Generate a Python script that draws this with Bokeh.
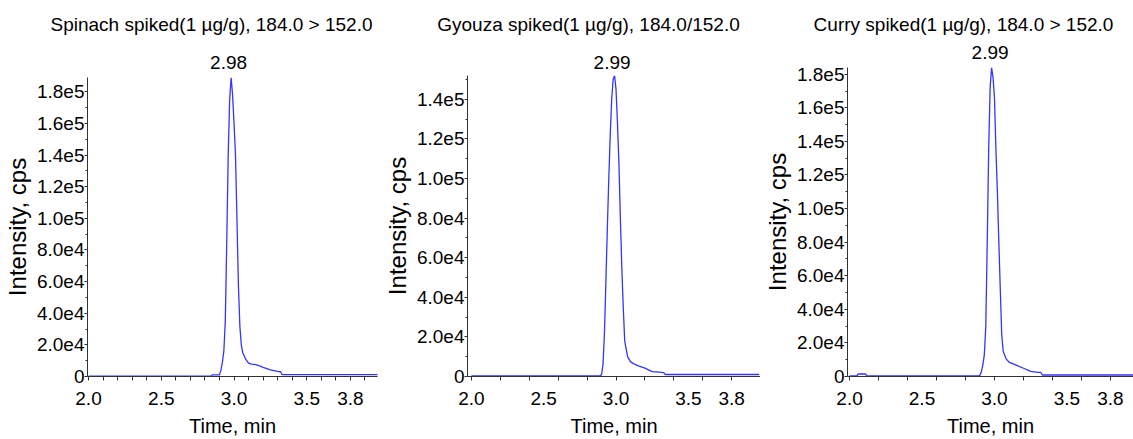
from bokeh.plotting import figure
from bokeh.layouts import row, column
from bokeh.models import Range1d, FixedTicker
from bokeh.embed import file_html
from bokeh.resources import INLINE

# ---------------- data ----------------
titles = ["Spinach spiked(1 \u00b5g/g), 184.0 > 152.0",
          "Gyouza spiked(1 \u00b5g/g), 184.0/152.0",
          "Curry spiked(1 \u00b5g/g), 184.0 > 152.0"]
peak_rt = [2.98, 2.99, 2.99]
peak_labels = ["2.98", "2.99", "2.99"]

spinach_time = [2.00, 2.84, 2.85, 2.90, 2.91, 2.92, 2.93, 2.94, 2.95, 2.96, 2.97, 2.98,
                2.99, 3.00, 3.01, 3.02, 3.03, 3.04, 3.05, 3.06, 3.08, 3.10, 3.12, 3.15,
                3.18, 3.20, 3.25, 3.30, 3.32, 3.33, 3.99]
spinach_cps = [200, 200, 1000, 1000, 4000, 9000, 16000, 35000, 85000, 140000, 175000, 189000,
               178000, 160000, 140000, 100000, 58000, 32000, 20000, 15000, 11000, 8500, 7800, 7500,
               6500, 5800, 4200, 3200, 3000, 1200, 1200]

gyouza_time = [2.00, 2.89, 2.90, 2.91, 2.92, 2.93, 2.94, 2.95, 2.96, 2.97, 2.98, 2.99,
               3.00, 3.01, 3.02, 3.03, 3.04, 3.05, 3.06, 3.08, 3.10, 3.12, 3.15, 3.20,
               3.25, 3.30, 3.33, 3.34, 3.99]
gyouza_cps = [300, 300, 1000, 6000, 22000, 48000, 75000, 100000, 122000, 140000, 150000, 152000,
              145000, 128000, 108000, 80000, 55000, 35000, 18000, 10000, 7500, 6500, 5500, 4200,
              2500, 2200, 2000, 1000, 1000]

curry_time = [2.00, 2.05, 2.06, 2.11, 2.12, 2.89, 2.90, 2.91, 2.92, 2.93, 2.94, 2.95, 2.96,
              2.97, 2.98, 2.99, 3.00, 3.01, 3.02, 3.03, 3.04, 3.05, 3.06, 3.08, 3.10, 3.15,
              3.20, 3.25, 3.30, 3.32, 3.33, 3.99]
curry_cps = [300, 300, 1500, 1500, 300, 300, 800, 3000, 7000, 13000, 30000, 80000, 135000,
             172000, 184000, 178000, 166000, 135000, 110000, 80000, 52000, 25000, 15000, 10500,
             8600, 6800, 4900, 3000, 2500, 2400, 900, 900]

x_major_ticks = [2.0, 2.5, 3.0, 3.5, 3.8]
x_tick_labels = ["2.0", "2.5", "3.0", "3.5", "3.8"]
x_minor_ticks_fine = [2.0, 2.1, 2.2, 2.3, 2.4, 2.5, 2.6, 2.7, 2.8, 2.9, 3.0, 3.1, 3.2, 3.3, 3.4,
                      3.5, 3.6, 3.7, 3.8, 3.9]
x_minor_ticks_coarse = [2.0, 2.2, 2.4, 2.6, 2.8, 3.0, 3.2, 3.4, 3.6, 3.8]

y_ticks_a = [0, 20000, 40000, 60000, 80000, 100000, 120000, 140000, 160000, 180000]
y_labels_a = ["0", "2.0e4", "4.0e4", "6.0e4", "8.0e4", "1.0e5", "1.2e5", "1.4e5", "1.6e5", "1.8e5"]
y_ticks_b = [0, 20000, 40000, 60000, 80000, 100000, 120000, 140000]
y_labels_b = ["0", "2.0e4", "4.0e4", "6.0e4", "8.0e4", "1.0e5", "1.2e5", "1.4e5"]

FONT = "Liberation Sans"
LINE = "#3535ff"
AXIS = "#333333"
TOTAL_H = 439


def make_column(width, border_left, border_right, frame_top, frame_bottom, strip_h,
                xr, yr, times, cps, yticks, ylabels, minor_x,
                title, title_cx, rt, rt_label, rt_cy):
    # ---- header strip (pixel coordinates) with the title and the peak label ----
    s = figure(width=width, height=strip_h, output_backend="svg", toolbar_location=None,
               x_range=Range1d(0, width), y_range=Range1d(strip_h, 0),
               min_border=0, x_axis_type=None, y_axis_type=None)
    s.outline_line_color = None
    s.xgrid.visible = False
    s.ygrid.visible = False
    s.text(x=[title_cx], y=[24], text=[title], text_align="center",
           text_baseline="middle", text_font={"value": FONT},
           text_font_size={"value": "19px"}, text_color="black")
    px_per_min = (width - border_left - border_right) / (xr[1] - xr[0])
    rt_px = border_left + (rt - xr[0]) * px_per_min
    s.text(x=[rt_px], y=[rt_cy], text=[rt_label], text_align="center",
           text_baseline="middle", text_font={"value": FONT},
           text_font_size={"value": "19px"}, text_color="black")

    # ---- chromatogram ----
    h = TOTAL_H - strip_h
    p = figure(width=width, height=h, output_backend="svg", toolbar_location=None,
               x_range=Range1d(*xr), y_range=Range1d(*yr),
               min_border_left=border_left, min_border_right=border_right,
               min_border_top=frame_top - strip_h, min_border_bottom=TOTAL_H - frame_bottom)
    p.outline_line_color = None
    p.xgrid.visible = False
    p.ygrid.visible = False
    p.background_fill_color = "white"
    p.border_fill_color = "white"

    p.line(times, cps, line_color=LINE, line_width=1.3)

    xa = p.xaxis[0]
    xa.ticker = FixedTicker(ticks=x_major_ticks, minor_ticks=minor_x)
    xa.major_label_overrides = {t: s_ for t, s_ in zip(x_major_ticks, x_tick_labels)}
    xa.major_tick_out = 0
    xa.major_tick_in = 0
    xa.minor_tick_out = 4
    xa.minor_tick_in = 0
    xa.major_label_standoff = 11
    xa.axis_label = "Time, min"
    xa.axis_label_standoff = 7

    ya = p.yaxis[0]
    minor_y = [v + 10000 for v in yticks] + yticks
    ya.ticker = FixedTicker(ticks=yticks, minor_ticks=minor_y)
    ya.major_label_overrides = {float(t): s_ for t, s_ in zip(yticks, ylabels)}
    ya.major_tick_out = 3
    ya.major_tick_in = 0
    ya.minor_tick_out = 2
    ya.minor_tick_in = 0
    ya.major_label_standoff = 0
    ya.axis_label = "Intensity, cps"
    ya.axis_label_standoff = 3

    for a in (xa, ya):
        a.axis_line_color = AXIS
        a.major_tick_line_color = AXIS
        a.minor_tick_line_color = AXIS
        a.major_label_text_font = FONT
        a.major_label_text_font_size = "19px"
        a.major_label_text_color = "black"
        a.axis_label_text_font = FONT
        a.axis_label_text_font_style = "normal"
        a.axis_label_text_color = "black"
    xa.axis_label_text_font_size = "20px"
    ya.axis_label_text_font_size = "24px"

    # wrap each plot in its own row so the two frames are not aligned to each other
    return column(row(s, spacing=0), row(p, spacing=0), spacing=0)


c1 = make_column(380, 82, 3, 77, 377, 74, (1.993, 3.986), (0, 189000),
                 spinach_time, spinach_cps, y_ticks_a, y_labels_a, x_minor_ticks_fine,
                 titles[0], 211, peak_rt[0], peak_labels[0], 62)
c2 = make_column(380, 82, 0, 75, 377, 73, (1.973, 3.999), (0, 152000),
                 gyouza_time, gyouza_cps, y_ticks_b, y_labels_b, x_minor_ticks_coarse,
                 titles[1], 208, peak_rt[1], peak_labels[1], 62)
c3 = make_column(373, 81, 0, 67, 380, 64, (1.986, 3.959), (0, 184000),
                 curry_time, curry_cps, y_ticks_a, y_labels_a, x_minor_ticks_coarse,
                 titles[2], 203, peak_rt[2], peak_labels[2], 52)

layout = row(c1, c2, c3, spacing=0)
open("out.html", "w").write(file_html(layout, INLINE))
